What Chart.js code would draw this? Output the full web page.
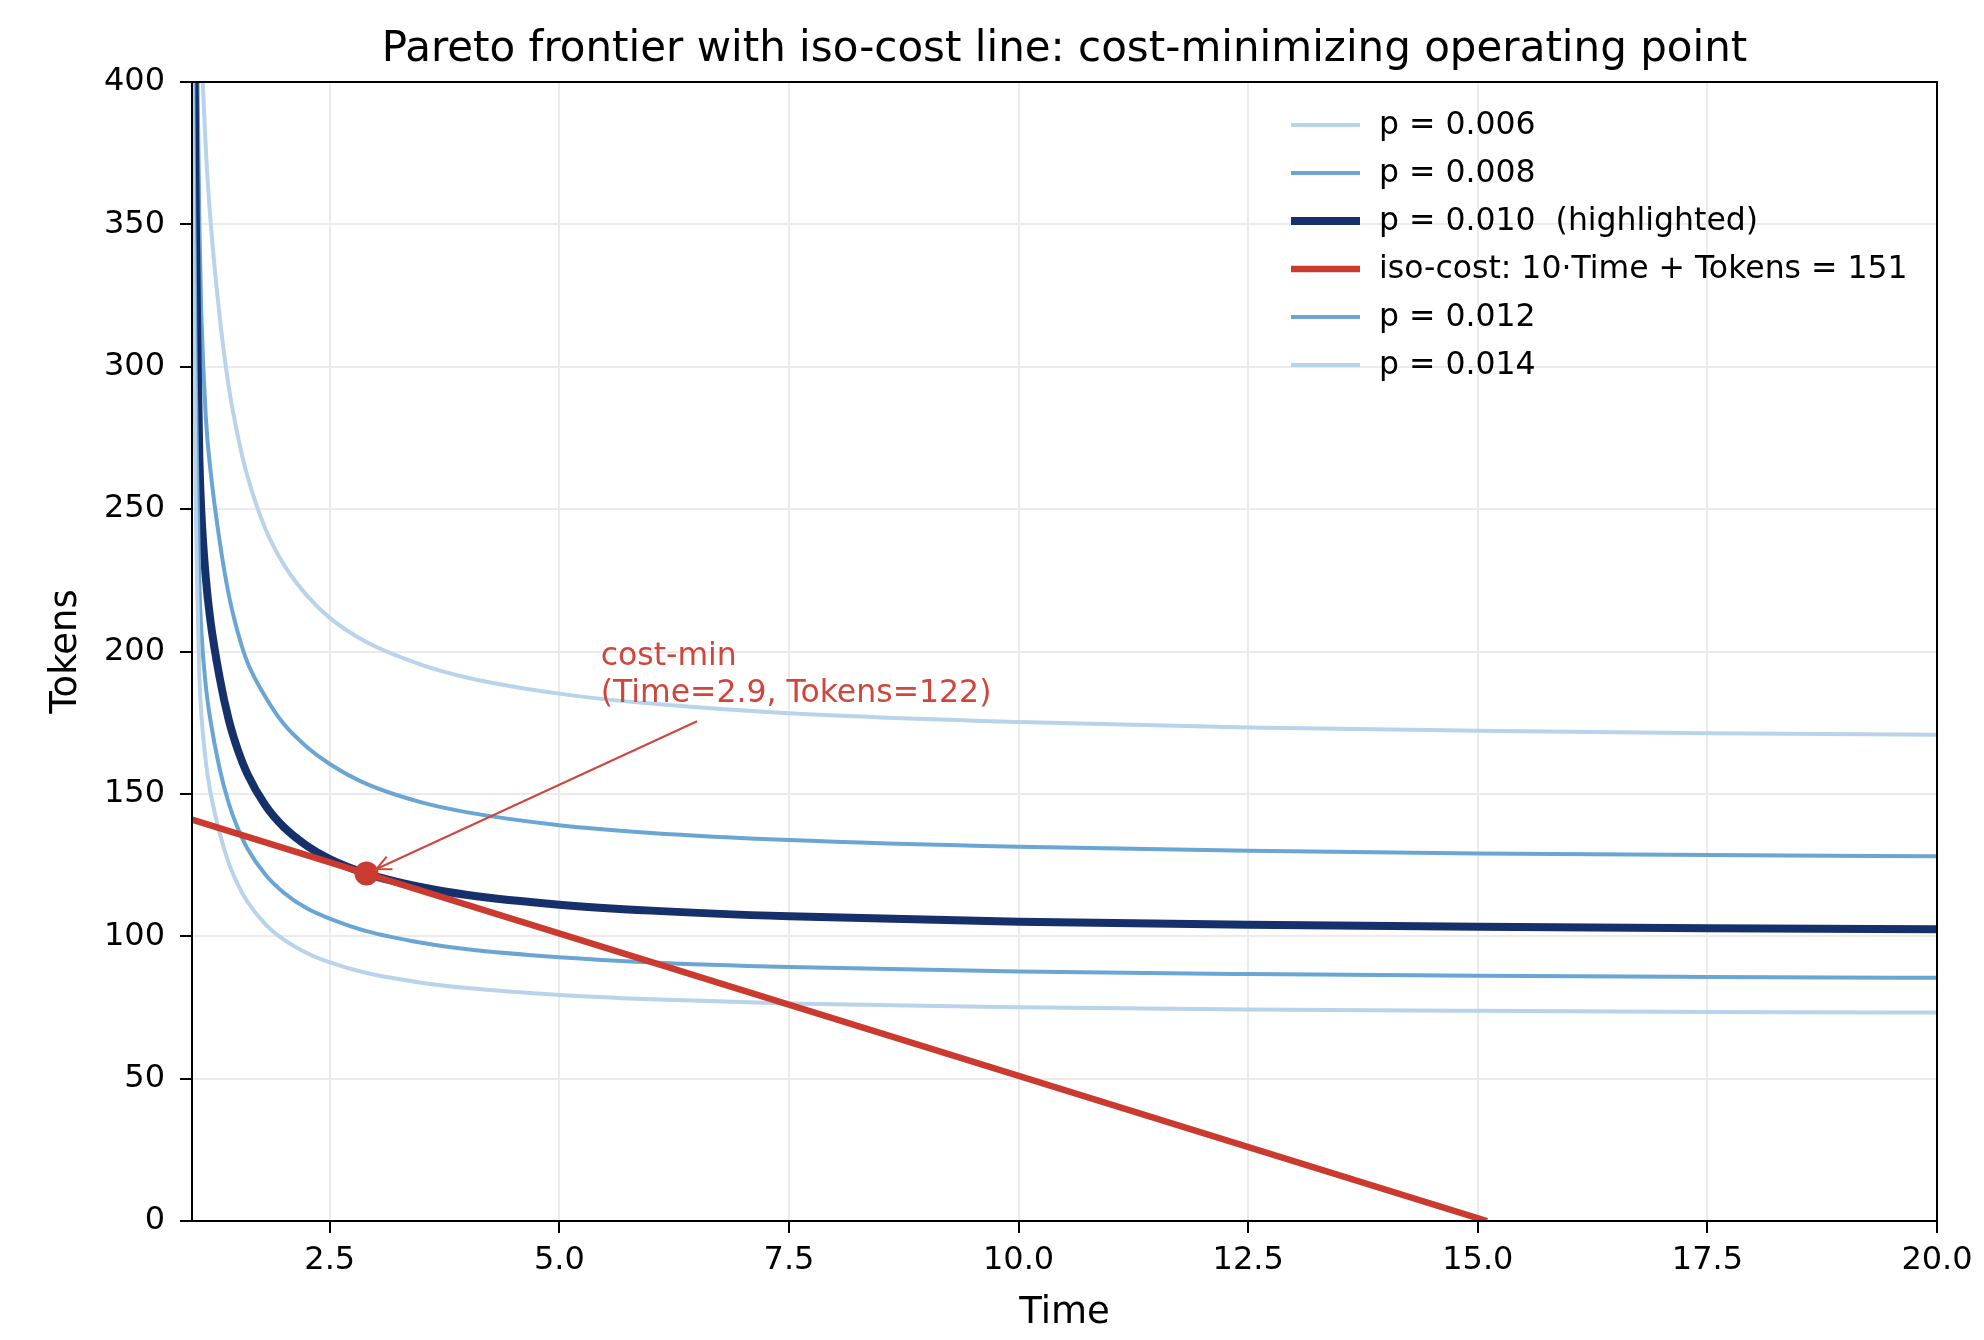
<!DOCTYPE html>
<html>
<head>
<meta charset="utf-8">
<title>Pareto frontier with iso-cost line</title>
<script src="https://cdn.jsdelivr.net/npm/chart.js@4.4.1/dist/chart.umd.min.js"></script>
<style>
  html, body { margin: 0; padding: 0; background: #fff; }
  #wrap { width: 1984px; height: 1340px; }
</style>
</head>
<body>
<div id="wrap"><canvas id="pareto-chart" width="1984" height="1340"></canvas></div>
<script>
'use strict'

var frontierTimes = [1.0, 1.02, 1.04, 1.06, 1.08, 1.1, 1.15, 1.2, 1.3, 1.4, 1.5, 1.6, 1.8, 2.0, 2.25, 2.5, 2.9, 3.5, 4.0, 5.0, 6.0, 7.5, 10.0, 12.5, 15.0, 17.5, 20.0]

// Tokens for each p
var tokensP006 = [867, 717, 592, 508, 447, 417, 377, 352, 318, 293, 275.5, 262, 243, 230.5, 219.7, 211.8, 203.3, 195.3, 190.8, 185.2, 181.7, 178.3, 175.2, 173.3, 172.2, 171.3, 170.8]
var tokensP008 = [700, 570, 470, 400, 350, 320, 282.5, 264, 239, 220, 206.6, 196.5, 184, 174.5, 166.5, 160.5, 153.5, 147, 143.5, 139, 136.3, 133.8, 131.4, 130, 129.1, 128.5, 128.1]
var tokensP010 = [520, 430, 355, 305, 268, 250, 226, 211, 191, 176, 165.3, 157.2, 145.9, 138.3, 131.8, 127.1, 122, 117.2, 114.5, 111.1, 109, 107, 105.1, 104, 103.3, 102.8, 102.5]
var tokensP012 = [480, 375, 300, 256, 224, 208, 188, 176, 159, 146.7, 137.8, 131, 121.6, 115.3, 109.8, 106.2, 101.8, 97.7, 95.4, 92.6, 90.8, 89.2, 87.6, 86.7, 86.1, 85.7, 85.4]
var tokensP014 = [420, 320, 253.5, 218, 191.4, 178.6, 161.4, 150.7, 136.4, 125.7, 118.1, 112.3, 104.2, 98.8, 94.1, 90.8, 87.1, 83.7, 81.8, 79.4, 77.9, 76.4, 75.1, 74.3, 73.8, 73.4, 73.2]

// iso-cost line 10*Time + Tokens = 151
var isoTimes = [1.0, 15.1]
var isoTokens = [141, 0]

// cost-minimizing operating point
var costMinTime = [2.9]
var costMinTokens = [122]

var xTickValues = [2.5, 5.0, 7.5, 10.0, 12.5, 15.0, 17.5, 20.0]
var yTickValues = [0, 50, 100, 150, 200, 250, 300, 350, 400]

var chartTitle = 'Pareto frontier with iso-cost line: cost-minimizing operating point'
var annotationLines = ['cost-min', '(Time=2.9, Tokens=122)']
var annotationTextAt = { x: 5.45, y: 198 }
var annotationArrowFrom = { x: 6.5, y: 175.5 }

var lightBlue = '#b8d3ea'
var midBlue = '#6aa5d4'
var darkBlue = '#15306a'
var costRed = '#cb3a2f'
var annoRed = '#d0463b'

function toPoints(xs, ys) {
  return xs.map(function (x, i) { return { x: x, y: ys[i] } })
}

function curve(label, ys, color, width, order) {
  return {
    label: label,
    data: toPoints(frontierTimes, ys),
    showLine: true,
    borderColor: color,
    backgroundColor: color,
    borderWidth: width,
    pointRadius: 0,
    cubicInterpolationMode: 'monotone',
    clip: 0,
    order: order,
    inLegend: true
  }
}

Chart.defaults.font.family = '"DejaVu Sans", sans-serif'
Chart.defaults.color = '#000'

// Title centred over the axes, not the whole canvas
var titlePlugin = {
  id: 'axesTitle',
  afterDraw: function (chart) {
    var ctx = chart.ctx
    var area = chart.chartArea
    ctx.save()
    ctx.font = '42px "DejaVu Sans"'
    ctx.fillStyle = '#000'
    ctx.textAlign = 'center'
    ctx.textBaseline = 'alphabetic'
    ctx.fillText(chartTitle, (area.left + area.right) / 2, 61)
    ctx.restore()
  }
}

// Box around the plotting area
var framePlugin = {
  id: 'frame',
  afterDatasetsDraw: function (chart) {
    var ctx = chart.ctx
    var a = chart.chartArea
    ctx.save()
    ctx.strokeStyle = '#000'
    ctx.lineWidth = 2
    ctx.strokeRect(a.left, a.top, a.right - a.left, a.bottom - a.top)
    ctx.restore()
  }
}

// Annotation text with arrow to the cost-min point
var annotationPlugin = {
  id: 'costMinNote',
  afterDatasetsDraw: function (chart) {
    var ctx = chart.ctx
    var xs = chart.scales.x
    var ys = chart.scales.y
    var tx = xs.getPixelForValue(annotationTextAt.x)
    var ty = ys.getPixelForValue(annotationTextAt.y)
    var sx = xs.getPixelForValue(annotationArrowFrom.x)
    var sy = ys.getPixelForValue(annotationArrowFrom.y)
    var px = xs.getPixelForValue(costMinTime[0])
    var py = ys.getPixelForValue(costMinTokens[0])
    var ang = Math.atan2(sy - py, sx - px)
    var ex = px + Math.cos(ang) * 11
    var ey = py + Math.sin(ang) * 11

    ctx.save()
    ctx.strokeStyle = annoRed
    ctx.lineWidth = 2
    ctx.beginPath()
    ctx.moveTo(sx, sy)
    ctx.lineTo(ex, ey)
    ctx.stroke()
    // open arrow head
    var head = 16
    ctx.beginPath()
    ctx.moveTo(ex + Math.cos(ang + 0.45) * head, ey + Math.sin(ang + 0.45) * head)
    ctx.lineTo(ex, ey)
    ctx.lineTo(ex + Math.cos(ang - 0.45) * head, ey + Math.sin(ang - 0.45) * head)
    ctx.stroke()

    ctx.font = '31.5px "DejaVu Sans"'
    ctx.fillStyle = annoRed
    ctx.textAlign = 'left'
    ctx.textBaseline = 'middle'
    annotationLines.forEach(function (line, i) {
      ctx.fillText(line, tx, ty + i * 37)
    })
    ctx.restore()
  }
}

// Legend inside the upper right corner, no frame
var legendPlugin = {
  id: 'innerLegend',
  afterDraw: function (chart) {
    var ctx = chart.ctx
    var area = chart.chartArea
    var row = 0
    ctx.save()
    ctx.font = '31.5px "DejaVu Sans"'
    ctx.textAlign = 'left'
    ctx.textBaseline = 'middle'
    chart.data.datasets.forEach(function (ds) {
      if (!ds.inLegend) return
      var y = area.top + 43 + row * 48
      ctx.strokeStyle = ds.borderColor
      ctx.lineWidth = ds.borderWidth
      ctx.beginPath()
      ctx.moveTo(area.right - 646, y)
      ctx.lineTo(area.right - 577, y)
      ctx.stroke()
      ctx.fillStyle = '#000'
      ctx.fillText(ds.label, area.right - 558, y + 1)
      row++
    })
    ctx.restore()
  }
}

var datasets = [
  curve('p = 0.006', tokensP006, lightBlue, 4, 9),
  curve('p = 0.008', tokensP008, midBlue, 4, 8),
  curve('p = 0.010  (highlighted)', tokensP010, darkBlue, 8, 7),
  {
    label: 'iso-cost: 10\u00b7Time + Tokens = 151',
    data: toPoints(isoTimes, isoTokens),
    showLine: true,
    borderColor: costRed,
    backgroundColor: costRed,
    borderWidth: 6.5,
    pointRadius: 0,
    clip: 0,
    order: 2,
    inLegend: true
  },
  curve('p = 0.012', tokensP012, midBlue, 4, 6),
  curve('p = 0.014', tokensP014, lightBlue, 4, 5),
  {
    label: 'cost-min',
    data: toPoints(costMinTime, costMinTokens),
    showLine: false,
    pointRadius: 12,
    pointBorderWidth: 0,
    pointBackgroundColor: costRed,
    order: 1,
    inLegend: false
  }
]

var gridOpts = {
  color: '#ebebeb',
  lineWidth: 2,
  tickLength: 12,
  tickColor: '#000',
  tickWidth: 2
}

var paretoChart = new Chart(document.getElementById('pareto-chart').getContext('2d'), {
  type: 'scatter',
  data: { datasets: datasets },
  options: {
    responsive: false,
    devicePixelRatio: 1,
    animation: false,
    layout: { padding: { left: 0, right: 47, top: 82, bottom: 0 } },
    elements: { line: { capBezierPoints: false } },
    plugins: {
      legend: { display: false },
      tooltip: { enabled: false },
      title: { display: false }
    },
    scales: {
      x: {
        type: 'linear',
        min: 1,
        max: 20,
        afterBuildTicks: function (scale) {
          scale.ticks = xTickValues.map(function (v) { return { value: v } })
        },
        afterFit: function (scale) { scale.height = 119 },
        ticks: {
          autoSkip: false,
          maxRotation: 0,
          padding: 8,
          font: { size: 32 },
          color: '#000',
          callback: function (v) { return Number(v).toFixed(1) }
        },
        grid: gridOpts,
        border: { display: false },
        title: { display: true, text: 'Time', font: { size: 37 }, color: '#000', padding: { top: 0, bottom: 4 } }
      },
      y: {
        type: 'linear',
        min: 0,
        max: 400,
        afterBuildTicks: function (scale) {
          scale.ticks = yTickValues.map(function (v) { return { value: v } })
        },
        afterFit: function (scale) { scale.width = 192 },
        ticks: {
          autoSkip: false,
          padding: 15,
          font: { size: 32 },
          color: '#000',
          callback: function (v) { return String(v) }
        },
        grid: gridOpts,
        border: { display: false },
        title: { display: true, text: 'Tokens', font: { size: 37 }, color: '#000', padding: { top: 44, bottom: 0 } }
      }
    }
  },
  plugins: [titlePlugin, framePlugin, annotationPlugin, legendPlugin]
})
</script>
</body>
</html>
